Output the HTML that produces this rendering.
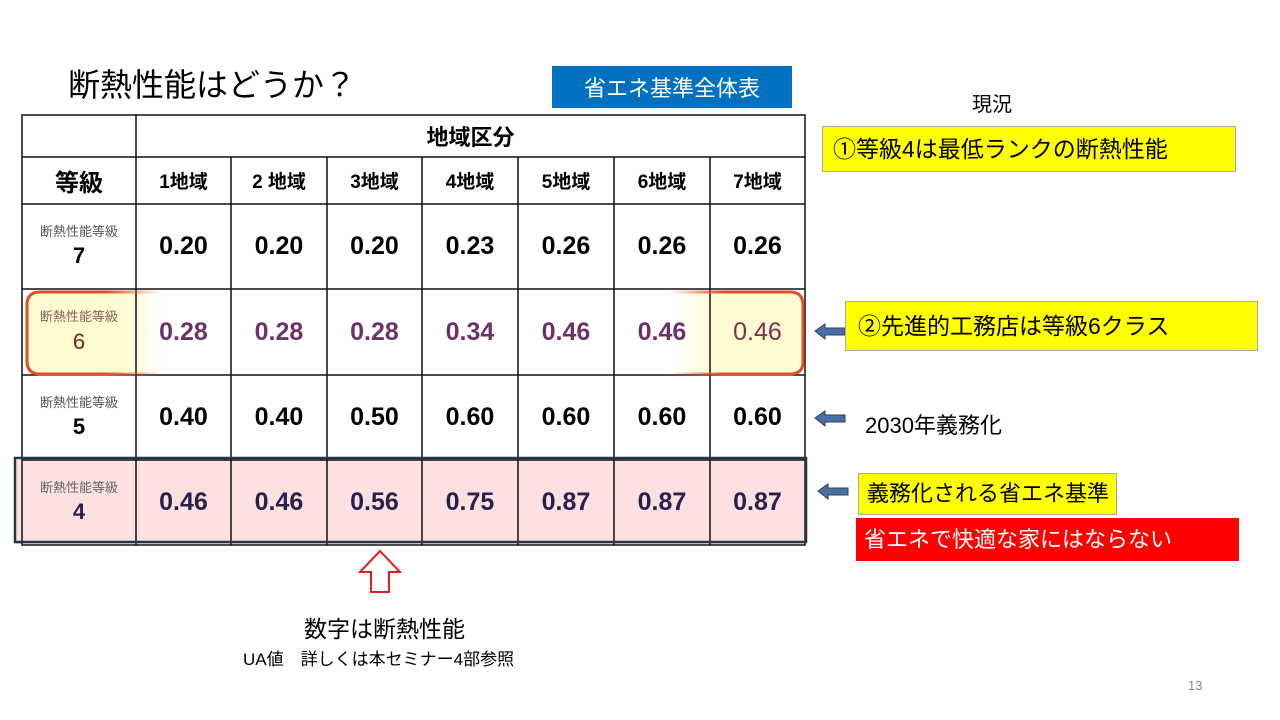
<!DOCTYPE html>
<html><head><meta charset="utf-8"><style>
body{margin:0;width:1280px;height:720px;background:#fff;position:relative;overflow:hidden;font-family:"Liberation Sans","Noto Sans CJK JP",sans-serif;}
.a{position:absolute;}
.c{position:absolute;display:flex;align-items:center;justify-content:center;text-align:center;}
.v{font-size:25px;font-weight:bold;}
.h{font-size:19px;font-weight:bold;}
.lb{flex-direction:column;line-height:1.1;}
.lb .s{font-size:13px;color:#555;}
.lb .n{font-size:22px;font-weight:bold;margin-top:5px;}
</style></head><body>
<div class="a" style="left:68px;top:60px;font-size:32px;">断熱性能はどうか？</div>
<div class="c" style="left:552px;top:66px;width:240px;height:42px;background:#0070c0;color:#fff;font-size:22px;">省エネ基準全体表</div>
<div class="a" style="left:972px;top:88px;font-size:20px;">現況</div>

<div class="a" style="left:16px;top:460px;width:790px;height:84px;background:#fde0e0;"></div>
<div class="a" style="left:25px;top:292px;width:140px;height:82px;background:linear-gradient(90deg,#fffbd0 70%,rgba(255,255,255,0));border-radius:12px;"></div>
<div class="a" style="left:670px;top:292px;width:133px;height:82px;background:linear-gradient(270deg,#fffbd0 60%,rgba(255,255,255,0));border-radius:12px;"></div>

<svg class="a" style="left:0;top:0" width="1280" height="720">
<defs>
<linearGradient id="gl" x1="0" x2="1"><stop offset="0.6" stop-color="#e0502a"/><stop offset="1" stop-color="#e0502a" stop-opacity="0"/></linearGradient>
<linearGradient id="gr" x1="1" x2="0"><stop offset="0.6" stop-color="#e0502a"/><stop offset="1" stop-color="#e0502a" stop-opacity="0"/></linearGradient>
</defs>
<g stroke="#111" stroke-width="1.5" fill="none">
<rect x="22" y="115" width="783" height="430"/>
<line x1="22" y1="157" x2="805" y2="157"/>
<line x1="22" y1="204" x2="805" y2="204"/>
<line x1="22" y1="289" x2="805" y2="289"/>
<line x1="22" y1="375" x2="805" y2="375"/>
<line x1="22" y1="460" x2="805" y2="460"/>
<line x1="136" y1="115" x2="136" y2="545"/>
<line x1="231" y1="157" x2="231" y2="545"/>
<line x1="327" y1="157" x2="327" y2="545"/>
<line x1="422" y1="157" x2="422" y2="545"/>
<line x1="518" y1="157" x2="518" y2="545"/>
<line x1="614" y1="157" x2="614" y2="545"/>
<line x1="710" y1="157" x2="710" y2="545"/>
</g>
<rect x="15" y="458" width="791" height="84" fill="none" stroke="#263448" stroke-width="2.5"/>
<path d="M160 292 H40 Q27 292 27 305 V361 Q27 374 40 374 H160" fill="none" stroke="url(#gl)" stroke-width="3"/>
<path d="M670 292 H790 Q803 292 803 305 V362 Q803 374 790 374 H670" fill="none" stroke="url(#gr)" stroke-width="3"/>
<path d="M371 592 V572 H360 L380 551 L400 572 H389 V592 Z" fill="#fff" stroke="#e02020" stroke-width="2"/>
<g fill="#4a6fa5" stroke="#2c3e5c" stroke-width="1">
<path d="M815 331 L825 324 V328 H845 V335 H825 V339 Z"/>
<path d="M815 418 L825 411 V415 H845 V422 H825 V426 Z"/>
<path d="M818 491 L828 484 V488 H848 V495 H828 V499 Z"/>
</g>
</svg>

<div class="c h" style="left:136px;top:115px;width:669px;height:42px;font-size:22px;">地域区分</div>
<div class="c" style="left:22px;top:157px;width:114px;height:47px;font-size:24px;font-weight:bold;">等級</div>
<div class="c h" style="left:136px;top:157px;width:95px;height:47px;">1地域</div>
<div class="c h" style="left:231px;top:157px;width:96px;height:47px;">2 地域</div>
<div class="c h" style="left:327px;top:157px;width:95px;height:47px;">3地域</div>
<div class="c h" style="left:422px;top:157px;width:96px;height:47px;">4地域</div>
<div class="c h" style="left:518px;top:157px;width:96px;height:47px;">5地域</div>
<div class="c h" style="left:614px;top:157px;width:96px;height:47px;">6地域</div>
<div class="c h" style="left:710px;top:157px;width:95px;height:47px;">7地域</div>

<div class="c lb" style="left:22px;top:204px;width:114px;height:85px;"><span class="s">断熱性能等級</span><span class="n">7</span></div>
<div class="c lb" style="left:22px;top:289px;width:114px;height:86px;"><span class="s" style="color:#8a6060">断熱性能等級</span><span class="n" style="color:#7a2020;font-weight:normal">6</span></div>
<div class="c lb" style="left:22px;top:375px;width:114px;height:85px;"><span class="s">断熱性能等級</span><span class="n">5</span></div>
<div class="c lb" style="left:22px;top:460px;width:114px;height:85px;"><span class="s" style="color:#666">断熱性能等級</span><span class="n" style="color:#2a2050">4</span></div>

<div class="c v" style="left:136px;top:204px;width:95px;height:85px;">0.20</div>
<div class="c v" style="left:231px;top:204px;width:96px;height:85px;">0.20</div>
<div class="c v" style="left:327px;top:204px;width:95px;height:85px;">0.20</div>
<div class="c v" style="left:422px;top:204px;width:96px;height:85px;">0.23</div>
<div class="c v" style="left:518px;top:204px;width:96px;height:85px;">0.26</div>
<div class="c v" style="left:614px;top:204px;width:96px;height:85px;">0.26</div>
<div class="c v" style="left:710px;top:204px;width:95px;height:85px;">0.26</div>

<div class="c v" style="left:136px;top:289px;width:95px;height:86px;color:#70306a;">0.28</div>
<div class="c v" style="left:231px;top:289px;width:96px;height:86px;color:#70306a;">0.28</div>
<div class="c v" style="left:327px;top:289px;width:95px;height:86px;color:#70306a;">0.28</div>
<div class="c v" style="left:422px;top:289px;width:96px;height:86px;color:#70306a;">0.34</div>
<div class="c v" style="left:518px;top:289px;width:96px;height:86px;color:#70306a;">0.46</div>
<div class="c v" style="left:614px;top:289px;width:96px;height:86px;color:#70306a;">0.46</div>
<div class="c v" style="left:710px;top:289px;width:95px;height:86px;color:#7a3050;font-weight:normal;">0.46</div>

<div class="c v" style="left:136px;top:375px;width:95px;height:85px;">0.40</div>
<div class="c v" style="left:231px;top:375px;width:96px;height:85px;">0.40</div>
<div class="c v" style="left:327px;top:375px;width:95px;height:85px;">0.50</div>
<div class="c v" style="left:422px;top:375px;width:96px;height:85px;">0.60</div>
<div class="c v" style="left:518px;top:375px;width:96px;height:85px;">0.60</div>
<div class="c v" style="left:614px;top:375px;width:96px;height:85px;">0.60</div>
<div class="c v" style="left:710px;top:375px;width:95px;height:85px;">0.60</div>

<div class="c v" style="left:136px;top:460px;width:95px;height:85px;color:#2a2050;">0.46</div>
<div class="c v" style="left:231px;top:460px;width:96px;height:85px;color:#2a2050;">0.46</div>
<div class="c v" style="left:327px;top:460px;width:95px;height:85px;color:#2a2050;">0.56</div>
<div class="c v" style="left:422px;top:460px;width:96px;height:85px;color:#2a2050;">0.75</div>
<div class="c v" style="left:518px;top:460px;width:96px;height:85px;color:#2a2050;">0.87</div>
<div class="c v" style="left:614px;top:460px;width:96px;height:85px;color:#2a2050;">0.87</div>
<div class="c v" style="left:710px;top:460px;width:95px;height:85px;color:#2a2050;">0.87</div>

<div class="a" style="left:822px;top:126px;width:414px;height:46px;background:#ffff00;border:1px solid #aaa;box-sizing:border-box;font-size:23px;line-height:44px;padding-left:10px;white-space:nowrap;">①等級4は最低ランクの断熱性能</div>
<div class="a" style="left:845px;top:301px;width:413px;height:50px;background:#ffff00;border:1px solid #aaa;box-sizing:border-box;font-size:23px;line-height:48px;padding-left:12px;white-space:nowrap;">②先進的工務店は等級6クラス</div>
<div class="a" style="left:865px;top:408px;font-size:22px;">2030年義務化</div>
<div class="a" style="left:858px;top:473px;width:259px;height:42px;background:#ffff00;border:1px solid #aaa;box-sizing:border-box;font-size:22px;line-height:40px;padding-left:8px;white-space:nowrap;">義務化される省エネ基準</div>
<div class="a" style="left:856px;top:518px;width:383px;height:43px;background:#ff0000;color:#fff;font-size:22px;line-height:43px;padding-left:8px;box-sizing:border-box;white-space:nowrap;">省エネで快適な家にはならない</div>

<div class="a" style="left:304px;top:610px;font-size:23px;">数字は断熱性能</div>
<div class="a" style="left:243px;top:645px;font-size:17px;">UA値　詳しくは本セミナー4部参照</div>
<div class="a" style="left:1188px;top:678px;font-size:13px;color:#888;">13</div>
</body></html>
